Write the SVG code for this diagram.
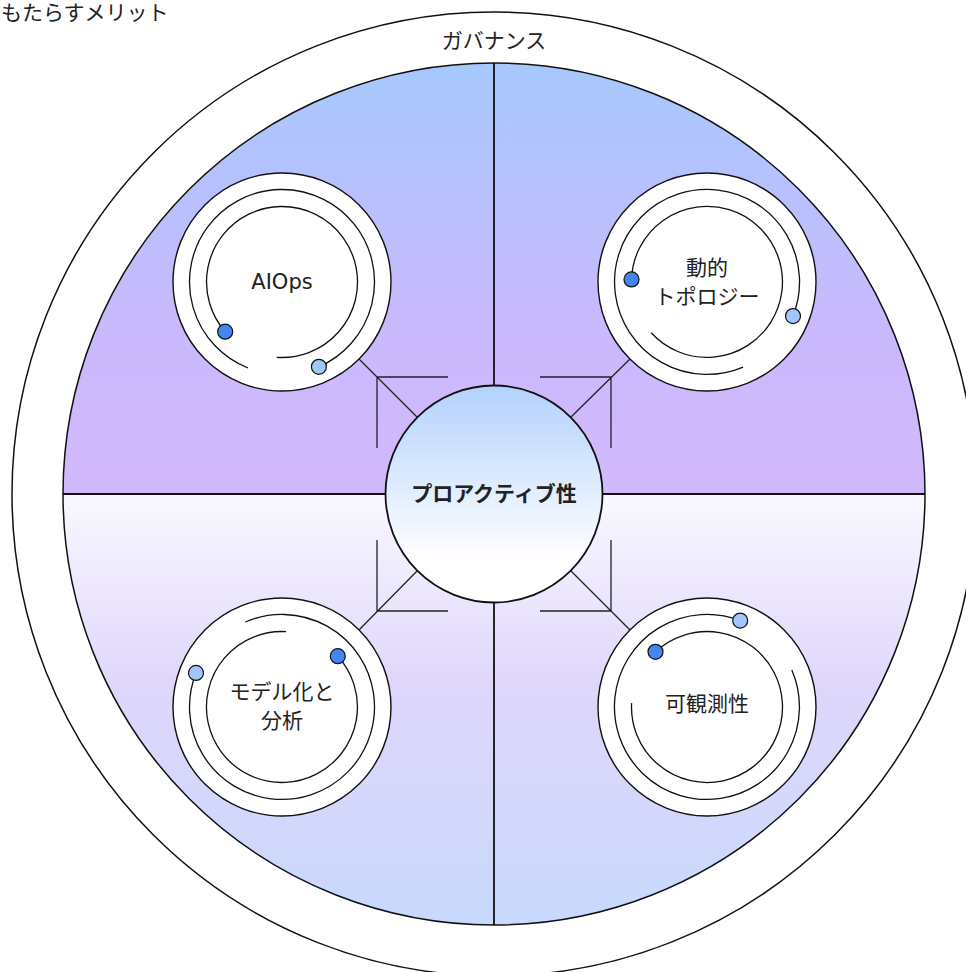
<svg xmlns="http://www.w3.org/2000/svg" width="966" height="972" viewBox="0 0 966 972">
<defs>
<linearGradient id="gTop" gradientUnits="userSpaceOnUse" x1="0" y1="63" x2="0" y2="494">
<stop offset="0" stop-color="#a6c8fe"/>
<stop offset="0.6" stop-color="#c9b9fc"/>
<stop offset="1" stop-color="#d3b8fd"/>
</linearGradient>
<linearGradient id="gBot" gradientUnits="userSpaceOnUse" x1="0" y1="494" x2="0" y2="925">
<stop offset="0" stop-color="#faf8ff"/>
<stop offset="0.45" stop-color="#dfd6fb"/>
<stop offset="1" stop-color="#c7d9fc"/>
</linearGradient>
<linearGradient id="gCenter" x1="0" y1="0" x2="0" y2="1">
<stop offset="0" stop-color="#b3d1fd"/>
<stop offset="0.8" stop-color="#ffffff"/>
<stop offset="1" stop-color="#ffffff"/>
</linearGradient>
</defs>
<style>
text{font-family:"DejaVu Sans","Noto Sans CJK JP",sans-serif;font-size:21px;fill:#222;text-anchor:middle;dominant-baseline:central}
.sat{fill:#fff;stroke:#111;stroke-width:1.4}
.ring{fill:none;stroke:#111;stroke-width:1.3}
.dk{fill:#4286f4;stroke:#111;stroke-width:1.2}
.lt{fill:#a2c5fb;stroke:#111;stroke-width:1.2}
.ln{fill:none;stroke:#222;stroke-width:1.3}
</style>
<rect width="966" height="972" fill="#fff"/>
<g id="governance">
<circle cx="494" cy="494" r="482" fill="#fff" stroke="#111" stroke-width="1.5"/>
<text x="494" y="41">ガバナンス</text>
</g>
<g id="quadrants">
<path d="M63,494 A431,431 0 0 1 925,494 Z" fill="url(#gTop)"/>
<path d="M63,494 A431,431 0 0 0 925,494 Z" fill="url(#gBot)"/>
<circle cx="494" cy="494" r="431" fill="none" stroke="#111" stroke-width="1.5"/>
<line x1="63" y1="494" x2="925" y2="494" stroke="#111" stroke-width="1.8"/>
<line x1="494" y1="63" x2="494" y2="925" stroke="#111" stroke-width="1.8"/>
</g>
<text x="1" y="12.5" style="text-anchor:start">もたらすメリット</text>
<g id="connectors">
<path class="ln" d="M359,359 L417,417 M448,377 H377 V448"/>
<path class="ln" d="M630,359 L571,417 M540,377 H611 V448"/>
<path class="ln" d="M359,630 L417,571 M377,540 V611 H448"/>
<path class="ln" d="M630,630 L571,571 M540,611 H611 V540"/>
</g>
<g id="proactive">
<circle cx="494" cy="494" r="108.5" fill="url(#gCenter)" stroke="#111" stroke-width="1.8"/>
<text x="494" y="494" font-weight="bold">プロアクティブ性</text>
</g>
<g id="aiops">
<circle class="sat" cx="282" cy="282" r="109"/>
<path class="ring" d="M248,368 A92.5,92.5 0 1 1 318.9,366.8"/>
<path class="ring" d="M225.2,331.7 A75.5,75.5 0 1 1 276.7,357.3"/>
<circle class="lt" cx="318.9" cy="366.8" r="7.5"/>
<circle class="dk" cx="225.2" cy="331.7" r="7.5"/>
<text x="282" y="282">AIOps</text>
</g>
<g id="topology">
<circle class="sat" cx="707" cy="282" r="109"/>
<path class="ring" d="M743.1,367.1 A92.5,92.5 0 1 1 793,316.1"/>
<path class="ring" d="M631.5,279.4 A75.5,75.5 0 1 1 651.2,332.8"/>
<circle class="lt" cx="793" cy="316.1" r="7.5"/>
<circle class="dk" cx="631.5" cy="279.4" r="7.5"/>
<text x="707" y="268">動的</text>
<text x="707" y="297">トポロジー</text>
</g>
<g id="modeling">
<circle class="sat" cx="282" cy="707" r="109"/>
<path class="ring" d="M245.4,622 A92.5,92.5 0 1 1 196,672.9"/>
<path class="ring" d="M337.8,656.2 A75.5,75.5 0 1 1 286,631.6"/>
<circle class="lt" cx="196" cy="672.9" r="7.5"/>
<circle class="dk" cx="337.8" cy="656.2" r="7.5"/>
<text x="282" y="692">モデル化と</text>
<text x="282" y="721">分析</text>
</g>
<g id="observability">
<circle class="sat" cx="707" cy="707" r="109"/>
<path class="ring" d="M791.8,670.1 A92.5,92.5 0 1 1 740.2,620.6"/>
<path class="ring" d="M655.5,651.8 A75.5,75.5 0 1 1 631.6,703.1"/>
<circle class="lt" cx="740.2" cy="620.6" r="7.5"/>
<circle class="dk" cx="655.5" cy="651.8" r="7.5"/>
<text x="707" y="704">可観測性</text>
</g>
</svg>
